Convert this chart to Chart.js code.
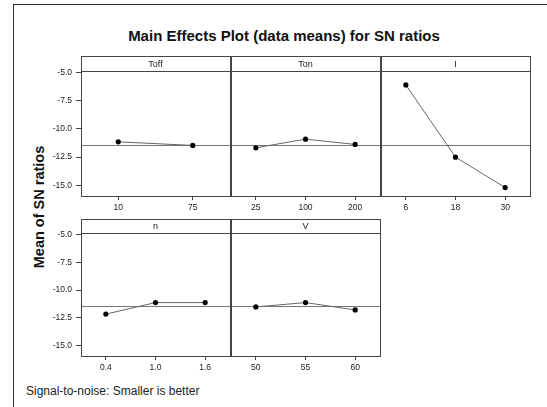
<!DOCTYPE html>
<html>
<head>
<meta charset="utf-8">
<script src="https://cdn.jsdelivr.net/npm/chart.js@4.4.1/dist/chart.umd.min.js"></script>
<style>
  html, body { margin: 0; padding: 0; background: #fff; }
  body { width: 547px; height: 407px; position: relative; overflow: hidden;
         font-family: 'Liberation Sans', Arial, sans-serif; }
  .frame { position: absolute; left: 13px; top: 4px; width: 560px; height: 420px;
           border-left: 1px solid #333; border-top: 1px solid #333; }
  .title { position: absolute; left: 0; width: 568px; top: 27px; text-align: center;
           font-weight: bold; font-size: 15px; color: #111; }
  .ylabel { position: absolute; left: 39px; top: 207px; transform: translate(-50%, -50%) rotate(-90deg);
            white-space: nowrap; font-weight: bold; font-size: 14.5px; color: #111; }
  .footer { position: absolute; left: 26px; top: 384px; font-size: 12px; color: #222; white-space: nowrap; }
  canvas { position: absolute; }
</style>
</head>
<body>
<div class="frame"></div>
<div class="title">Main Effects Plot (data means) for SN ratios</div>
<div class="ylabel">Mean of SN ratios</div>
<div class="footer">Signal-to-noise: Smaller is better</div>

<script>
// ── Data (mean SN ratio per factor level) ───────────────────
const toffLevels = ['10', '75'];
const toffSN     = [-11.14, -11.46];
const tonLevels  = ['25', '100', '200'];
const tonSN      = [-11.67, -10.90, -11.37];
const iLevels    = ['6', '18', '30'];
const iSN        = [-6.09, -12.50, -15.20];
const nLevels    = ['0.4', '1.0', '1.6'];
const nSN        = [-12.17, -11.13, -11.13];
const vLevels    = ['50', '55', '60'];
const vSN        = [-11.52, -11.13, -11.79];
const overallMean = -11.42;
const yTicks     = [-15, -12.5, -10, -7.5, -5];
const Y_MIN = -15.95, Y_MAX = -4.85;

// ── Layout ─────────────────────────────────────────────────
const colLeft = [81, 231, 381];
const panelW  = 150;
const rows = [
    { top: 56,  strip: 15, plot: 125 },
    { top: 219, strip: 14, plot: 123 },
];
const AXIS_W = 50, AXIS_H = 24, PAD_R = 3;

const panels = [
    { name: 'Toff', labels: toffLevels, values: toffSN, row: 0, col: 0 },
    { name: 'Ton',  labels: tonLevels,  values: tonSN,  row: 0, col: 1 },
    { name: 'I',    labels: iLevels,    values: iSN,    row: 0, col: 2 },
    { name: 'n',    labels: nLevels,    values: nSN,    row: 1, col: 0 },
    { name: 'V',    labels: vLevels,    values: vSN,    row: 1, col: 1 },
];

const frameColor = '#444';

// header strip, box and reference line
const panelPlugin = {
    id: 'panelFrame',
    beforeDatasetsDraw(chart, args, opts) {
        const { ctx, chartArea: a } = chart;
        const y = Math.round(chart.scales.y.getPixelForValue(overallMean)) + 0.5;
        ctx.save();
        ctx.strokeStyle = '#777';
        ctx.lineWidth = 1;
        ctx.beginPath();
        ctx.moveTo(a.left, y);
        ctx.lineTo(a.right, y);
        ctx.stroke();
        ctx.restore();
    },
    afterDraw(chart, args, opts) {
        const { ctx, chartArea: a } = chart;
        const top = a.top - opts.strip;
        ctx.save();
        ctx.strokeStyle = frameColor;
        ctx.lineWidth = 1;
        ctx.strokeRect(a.left + 0.5, top + 0.5, a.right - a.left, a.bottom - top);
        ctx.beginPath();
        ctx.moveTo(a.left, a.top + 0.5);
        ctx.lineTo(a.right + 1, a.top + 0.5);
        ctx.stroke();
        ctx.fillStyle = '#222';
        ctx.font = '9px "Liberation Sans", Arial, sans-serif';
        ctx.textAlign = 'center';
        ctx.textBaseline = 'middle';
        ctx.fillText(opts.label, (a.left + a.right) / 2, top + opts.strip / 2 + 1);
        ctx.restore();
    },
};

panels.forEach(p => {
    const r = rows[p.row];
    const cv = document.createElement('canvas');
    const w = AXIS_W + panelW + PAD_R;
    const h = r.strip + r.plot + AXIS_H;
    cv.width = w; cv.height = h;
    cv.style.left = (colLeft[p.col] - AXIS_W) + 'px';
    cv.style.top = r.top + 'px';
    cv.style.width = w + 'px'; cv.style.height = h + 'px';
    document.body.appendChild(cv);

    const firstCol = p.col === 0;
    new Chart(cv.getContext('2d'), {
        type: 'line',
        data: {
            labels: p.labels,
            datasets: [{
                data: p.values,
                borderColor: '#666',
                borderWidth: 1,
                tension: 0,
                pointRadius: 2.6,
                pointBackgroundColor: '#000',
                pointBorderColor: '#000',
                pointBorderWidth: 0,
            }],
        },
        plugins: [panelPlugin],
        options: {
            responsive: false,
            animation: false,
            devicePixelRatio: 1,
            layout: { padding: { top: r.strip, right: PAD_R, left: 0, bottom: 0 } },
            plugins: {
                legend: { display: false },
                tooltip: { enabled: false },
                panelFrame: { label: p.name, strip: r.strip },
            },
            scales: {
                x: {
                    type: 'category',
                    offset: true,
                    border: { display: false },
                    grid: { drawOnChartArea: false, drawTicks: true, tickLength: 4,
                            color: frameColor, offset: false },
                    ticks: { color: '#222', padding: 3, maxRotation: 0, autoSkip: false,
                             font: { family: '"Liberation Sans", Arial, sans-serif', size: 8.5 } },
                    afterFit: s => { s.height = AXIS_H; },
                },
                y: {
                    type: 'linear',
                    min: Y_MIN, max: Y_MAX,
                    border: { display: false },
                    afterBuildTicks: s => { s.ticks = yTicks.map(v => ({ value: v })); },
                    grid: { display: firstCol, drawOnChartArea: false, tickLength: 5, color: frameColor },
                    ticks: { display: firstCol, color: '#222', padding: 4,
                             callback: v => Number(v).toFixed(1),
                             font: { family: '"Liberation Sans", Arial, sans-serif', size: 8.5 } },
                    afterFit: s => { s.width = AXIS_W; },
                },
            },
        },
    });
});
</script>
</body>
</html>
